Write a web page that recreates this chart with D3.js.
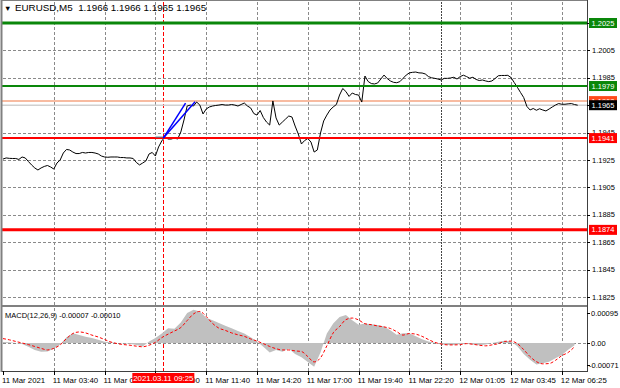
<!DOCTYPE html>
<html>
<head>
<meta charset="utf-8">
<script src="https://cdn.jsdelivr.net/npm/d3@7"></script>
<style>
  body { margin: 0; background: #fff; }
  svg { display: block; font-family: "Liberation Sans", Arial, sans-serif; }
</style>
</head>
<body>
<svg width="620" height="388"></svg>
<script>
// ---- data ----
const symbolTitle = "EURUSD,M5  1.1966 1.1966 1.1965 1.1965";
const macdTitle = "MACD(12,26,9) -0.00007 -0.00010";
const crossLabel = "2021.03.11 09:25";
const crossBar = 101;
const daySeparatorBar = 276;

const timeLabels = ["11 Mar 2021", "11 Mar 03:40", "11 Mar 06:20", "11 Mar 09:00",
  "11 Mar 11:40", "11 Mar 14:20", "11 Mar 17:00", "11 Mar 19:40",
  "11 Mar 22:20", "12 Mar 01:05", "12 Mar 03:45", "12 Mar 06:25"];
const labelEvery = 32; // bars between time labels

const priceTicks = [1.1825, 1.1845, 1.1865, 1.1885, 1.1905, 1.1925, 1.1945, 1.1965, 1.1985, 1.2005, 1.2025];
const macdTicks = [0.00095, 0, -0.00071];
const macdTickLabels = ["0.00095", "0.00", "-0.00071"];

// close prices, one every 2 bars
const closeStep = 2;
const closes = [
  1.19257, 1.19265, 1.19262, 1.19261, 1.19261, 1.19254, 1.19272, 1.19265, 1.19239, 1.19214,
  1.19192, 1.19177, 1.19192, 1.19203, 1.19210, 1.19199, 1.19184, 1.19228, 1.19250, 1.19301,
  1.19327, 1.19323, 1.19308, 1.19297, 1.19297, 1.19305, 1.19301, 1.19305, 1.19305, 1.19301,
  1.19294, 1.19279, 1.19272, 1.19270, 1.19272, 1.19272, 1.19272, 1.19268, 1.19268, 1.19265,
  1.19265, 1.19261, 1.19232, 1.19214, 1.19228, 1.19243, 1.19294, 1.19305, 1.19279, 1.19345,
  1.19389, 1.19418, 1.19403, 1.19403, 1.19411, 1.19403, 1.19454, 1.19542, 1.19644, 1.19651,
  1.19644, 1.19673, 1.19651, 1.19586, 1.19622, 1.19637, 1.19644, 1.19648, 1.19651, 1.19655,
  1.19651, 1.19651, 1.19655, 1.19651, 1.19644, 1.19655, 1.19666, 1.19644, 1.19630, 1.19589,
  1.19578, 1.19611, 1.19560, 1.19527, 1.19505, 1.19681, 1.19557, 1.19505, 1.19527, 1.19549,
  1.19571, 1.19564, 1.19498, 1.19440, 1.19367, 1.19392, 1.19407, 1.19381, 1.19308, 1.19323,
  1.19447, 1.19535, 1.19578, 1.19615, 1.19637, 1.19655, 1.19724, 1.19772, 1.19750, 1.19714,
  1.19739, 1.19728, 1.19724, 1.19673, 1.19863, 1.19823, 1.19808, 1.19805, 1.19812, 1.19841,
  1.19870, 1.19845, 1.19827, 1.19817, 1.19814, 1.19822, 1.19846, 1.19870, 1.19886, 1.19890,
  1.19892, 1.19886, 1.19885, 1.19878, 1.19859, 1.19850, 1.19846, 1.19841, 1.19834, 1.19846,
  1.19846, 1.19849, 1.19854, 1.19841, 1.19859, 1.19869, 1.19859, 1.19847, 1.19854, 1.19838,
  1.19830, 1.19834, 1.19827, 1.19822, 1.19827, 1.19845, 1.19865, 1.19867, 1.19867, 1.19868,
  1.19852, 1.19816, 1.19781, 1.19743, 1.19706, 1.19641, 1.19615, 1.19626, 1.19613, 1.19624,
  1.19615, 1.19608, 1.19622, 1.19637, 1.19651, 1.19662, 1.19657, 1.19657, 1.19660, 1.19662,
  1.19655, 1.19650
];

// MACD main and signal, one every 4 bars
const macdStep = 4;
const macdMain = [
  0.00003, 0.00002, 0.00000, -0.00003, -0.00012, -0.00022, -0.00028, -0.00027, -0.00018, -0.00005,
  0.00018, 0.00031, 0.00025, 0.00020, 0.00016, 0.00010, 0.00004, 0.00002, 0.00000, -0.00001,
  -0.00002, -0.00006, -0.00011, 0.00005, 0.00016, 0.00030, 0.00047, 0.00045, 0.00065, 0.00095,
  0.00105, 0.00100, 0.00080, 0.00072, 0.00063, 0.00055, 0.00047, 0.00038, 0.00030, 0.00018,
  0.00005, -0.00012, -0.00030, -0.00022, -0.00028, -0.00018, -0.00035, -0.00045, -0.00060, -0.00075,
  -0.00030, 0.00030, 0.00062, 0.00082, 0.00089, 0.00072, 0.00058, 0.00062, 0.00059, 0.00057,
  0.00052, 0.00040, 0.00026, 0.00031, 0.00031, 0.00021, 0.00012, 0.00005, 0.00001, -0.00004,
  -0.00006, -0.00006, -0.00003, -0.00002, -0.00005, -0.00007, -0.00005, 0.00000, 0.00004, 0.00007,
  0.00005, -0.00010, -0.00035, -0.00053, -0.00068, -0.00064, -0.00059, -0.00048, -0.00038, -0.00021,
  -0.00007
];
const macdSignal = [
  0.00014, 0.00010, 0.00005, 0.00000, -0.00005, -0.00011, -0.00017, -0.00022, -0.00017, -0.00006,
  0.00014, 0.00030, 0.00035, 0.00032, 0.00025, 0.00019, 0.00011, 0.00003, -0.00002, -0.00005,
  -0.00007, -0.00010, -0.00012, -0.00007, 0.00002, 0.00017, 0.00028, 0.00038, 0.00049, 0.00071,
  0.00092, 0.00100, 0.00084, 0.00062, 0.00047, 0.00040, 0.00032, 0.00026, 0.00021, 0.00013,
  0.00006, -0.00002, -0.00011, -0.00018, -0.00022, -0.00022, -0.00025, -0.00027, -0.00043, -0.00060,
  -0.00047, -0.00009, 0.00032, 0.00052, 0.00074, 0.00079, 0.00073, 0.00061, 0.00058, 0.00054,
  0.00051, 0.00046, 0.00036, 0.00025, 0.00030, 0.00028, 0.00021, 0.00011, 0.00002, -0.00003,
  -0.00006, -0.00006, -0.00005, -0.00002, -0.00004, -0.00007, -0.00009, -0.00006, -0.00002, 0.00005,
  0.00006, -0.00002, -0.00021, -0.00043, -0.00059, -0.00066, -0.00065, -0.00055, -0.00040, -0.00030,
  -0.00012
];

// horizontal levels drawn on the chart
const resistanceLevels = [1.2025, 1.1979];
const supportLevels = [1.1941, 1.1874];
const askPrice = 1.1968;
const bidPrice = 1.1965;

// trend lines from the breakout point: [bar0, price0, bar1, price1]
const trendLines = [
  [101, 1.1941, 115, 1.19665],
  [101, 1.1941, 121, 1.19675]
];

// ---- layout ----
const plotLeft = 2, plotRight = 587;
const mainTop = 1, mainBottom = 305;
const macdTop = 307, macdBottom = 371;

const svg = d3.select("svg");

const x = d3.scaleLinear().domain([0, 352]).range([3, 561.8]);
const y = d3.scaleLinear().domain([1.1825, 1.2025]).range([297, 23]);
const yM = d3.scaleLinear().domain([0, 0.00095]).range([343, 313]);

const defs = svg.append("defs");
defs.append("clipPath").attr("id", "clipMain")
  .append("rect").attr("x", plotLeft).attr("y", mainTop)
  .attr("width", plotRight - plotLeft).attr("height", mainBottom - mainTop);
defs.append("clipPath").attr("id", "clipMacd")
  .append("rect").attr("x", plotLeft).attr("y", macdTop)
  .attr("width", plotRight - plotLeft).attr("height", macdBottom - macdTop);

const gridColor = "#8a8a8a";
const labelBars = timeLabels.map((d, i) => i * labelEvery);
const px = v => Math.round(v) + 0.5;

// ---- grid: dashes built as small rects so they stay crisp ----
const grid = svg.append("g").attr("fill", gridColor);
function hDashes(yy, x0, x1, on, off, color) {
  const xs = d3.range(x0, x1, on + off);
  grid.selectAll(null).data(xs).enter().append("rect")
    .attr("x", d => d).attr("y", Math.round(yy)).attr("width", on).attr("height", 1)
    .attr("fill", color);
}
function vDashes(xx, y0, y1, on, off, color) {
  const ys = d3.range(y0, y1, on + off);
  grid.selectAll(null).data(ys).enter().append("rect")
    .attr("x", Math.round(xx)).attr("y", d => d).attr("width", 1).attr("height", on)
    .attr("fill", color);
}
priceTicks.forEach(p => hDashes(y(p), plotLeft + 1, plotRight, 3, 2, gridColor));
hDashes(yM(0), plotLeft + 1, plotRight, 3, 2, gridColor);
[[mainTop + 1, mainBottom], [macdTop + 1, macdBottom]].forEach(([t, b]) => {
  labelBars.slice(1).forEach(bar => vDashes(x(bar), t, b, 3, 2, gridColor));
  vDashes(x(daySeparatorBar), t, b, 2, 1, "#444");
});

// ---- MACD panel ----
const macdG = svg.append("g").attr("clip-path", "url(#clipMacd)");
macdG.append("path")
  .datum(macdMain)
  .attr("d", d3.area().x((d, i) => x(i * macdStep)).y0(yM(0)).y1(d => yM(d)))
  .attr("fill", "#c0c0c0");
macdG.append("path")
  .datum(macdSignal)
  .attr("d", d3.line().x((d, i) => x(i * macdStep)).y(d => yM(d)).curve(d3.curveMonotoneX))
  .attr("fill", "none").attr("stroke", "#ff0000").attr("stroke-width", 1)
  .attr("stroke-dasharray", "3,2");

// ---- main panel ----
const mainG = svg.append("g").attr("clip-path", "url(#clipMain)");

// ask / bid lines
mainG.append("line")
  .attr("x1", plotLeft).attr("x2", plotRight)
  .attr("y1", y(bidPrice)).attr("y2", y(bidPrice))
  .attr("stroke", "#d0d0d0").attr("stroke-width", 1.5);
mainG.append("line")
  .attr("x1", plotLeft).attr("x2", plotRight)
  .attr("y1", y(askPrice)).attr("y2", y(askPrice))
  .attr("stroke", "#f5a482").attr("stroke-width", 1.5);

// price line
mainG.append("path")
  .datum(closes)
  .attr("d", d3.line().x((d, i) => x(i * closeStep)).y(d => y(d)))
  .attr("fill", "none").attr("stroke", "#000").attr("stroke-width", 1);

// level lines
const levelG = mainG.append("g");
levelG.selectAll(".res").data(resistanceLevels).enter().append("line")
  .attr("x1", plotLeft).attr("x2", plotRight)
  .attr("y1", d => y(d)).attr("y2", d => y(d))
  .attr("stroke", "#0a870a").attr("stroke-width", (d, i) => i === 0 ? 3 : 2);
levelG.selectAll(".sup").data(supportLevels).enter().append("line")
  .attr("x1", plotLeft).attr("x2", plotRight)
  .attr("y1", d => y(d)).attr("y2", d => y(d))
  .attr("stroke", "#ff0000").attr("stroke-width", (d, i) => i === 0 ? 2 : 3);

// short marker before breakout and the trend lines
mainG.append("line")
  .attr("x1", x(crossBar - 5)).attr("x2", x(crossBar))
  .attr("y1", y(supportLevels[0]) - 1).attr("y2", y(supportLevels[0]) - 1)
  .attr("stroke", "#4d7f95").attr("stroke-width", 1);
mainG.selectAll(".trend").data(trendLines).enter().append("line")
  .attr("x1", d => x(d[0])).attr("y1", d => y(d[1]))
  .attr("x2", d => x(d[2])).attr("y2", d => y(d[3]))
  .attr("stroke", "#0000ff").attr("stroke-width", 1.5);

// crosshair
vDashes(x(crossBar), mainTop + 1, macdBottom, 4, 2, "#ff0000");

// ---- frames ----
const frame = svg.append("g").attr("fill", "none").attr("stroke", "#808080");
frame.append("line").attr("x1", 1.5).attr("x2", 1.5).attr("y1", 0).attr("y2", macdBottom + 1).attr("stroke-width", 2);
frame.append("line").attr("x1", plotLeft).attr("x2", plotRight).attr("y1", 0.5).attr("y2", 0.5);
frame.append("line").attr("x1", plotLeft).attr("x2", plotRight).attr("y1", 306).attr("y2", 306).attr("stroke-width", 2);
frame.append("line").attr("x1", plotLeft).attr("x2", plotRight + 1).attr("y1", macdBottom + 0.5).attr("y2", macdBottom + 0.5).attr("stroke", "#404040");
frame.append("line").attr("x1", plotRight + 0.5).attr("x2", plotRight + 0.5).attr("y1", 0).attr("y2", macdBottom + 1).attr("stroke", "#404040");

// ---- price axis ----
const tagPrices = [resistanceLevels[0], bidPrice];
const axisG = svg.append("g").attr("font-size", 7.5).attr("fill", "#000");
axisG.selectAll(".ptick").data(priceTicks).enter().append("line")
  .attr("x1", plotRight).attr("x2", plotRight + 3)
  .attr("y1", d => px(y(d))).attr("y2", d => px(y(d)))
  .attr("stroke", "#000");
// labels fully covered by a price tag are not drawn
axisG.selectAll(".plabel").data(priceTicks.filter(p => !tagPrices.includes(p))).enter().append("text")
  .attr("x", 592).attr("y", d => y(d)).attr("dy", "0.35em")
  .text(d => d.toFixed(4));

axisG.selectAll(".mtick").data(macdTicks).enter().append("line")
  .attr("x1", plotRight).attr("x2", plotRight + 3)
  .attr("y1", d => px(yM(d))).attr("y2", d => px(yM(d)))
  .attr("stroke", "#000");
axisG.selectAll(".mlabel").data(macdTicks).enter().append("text")
  .attr("x", (d, i) => macdTickLabels[i].startsWith("-") ? 589 : 591)
  .attr("y", d => yM(d)).attr("dy", "0.35em")
  .text((d, i) => macdTickLabels[i]);

// price tags on the axis
function priceTag(price, color) {
  const g = svg.append("g");
  g.append("rect").attr("x", 589).attr("y", y(price) - 5).attr("width", 28).attr("height", 10).attr("fill", color);
  g.append("text").attr("x", 591.5).attr("y", y(price)).attr("dy", "0.35em")
    .attr("font-size", 7.5).attr("fill", "#fff").text(price.toFixed(4));
}
resistanceLevels.forEach(p => priceTag(p, "#0a870a"));
supportLevels.forEach(p => priceTag(p, "#ff0000"));
priceTag(askPrice, "#ff4a1a");
priceTag(bidPrice, "#000");

// ---- time axis ----
const timeG = svg.append("g").attr("font-size", 7.8).attr("fill", "#000");
timeG.selectAll(".ttick").data(labelBars).enter().append("line")
  .attr("x1", d => px(x(d))).attr("x2", d => px(x(d)))
  .attr("y1", macdBottom).attr("y2", macdBottom + 4)
  .attr("stroke", "#000");
timeG.selectAll(".tlabel").data(timeLabels).enter().append("text")
  .attr("x", (d, i) => x(labelBars[i]) - 1).attr("y", 380).attr("dy", "0.35em")
  .text(d => d);

const cross = svg.append("g");
cross.append("rect").attr("x", x(crossBar) - 31).attr("y", 373).attr("width", 62).attr("height", 10).attr("fill", "#ff0000");
cross.append("text").attr("x", x(crossBar)).attr("y", 378).attr("dy", "0.35em")
  .attr("text-anchor", "middle").attr("font-size", 7.8).attr("fill", "#fff").text(crossLabel);

// ---- titles ----
svg.append("text").attr("x", 4).attr("y", 8).attr("dy", "0.35em").attr("font-size", 7.5).text("▼");
svg.append("text").attr("x", 15).attr("y", 8).attr("dy", "0.35em").attr("font-size", 9.8)
  .style("white-space", "pre").text(symbolTitle);
svg.append("text").attr("x", 5).attr("y", 315).attr("dy", "0.35em").attr("font-size", 7.5).text(macdTitle);
</script>
</body>
</html>
